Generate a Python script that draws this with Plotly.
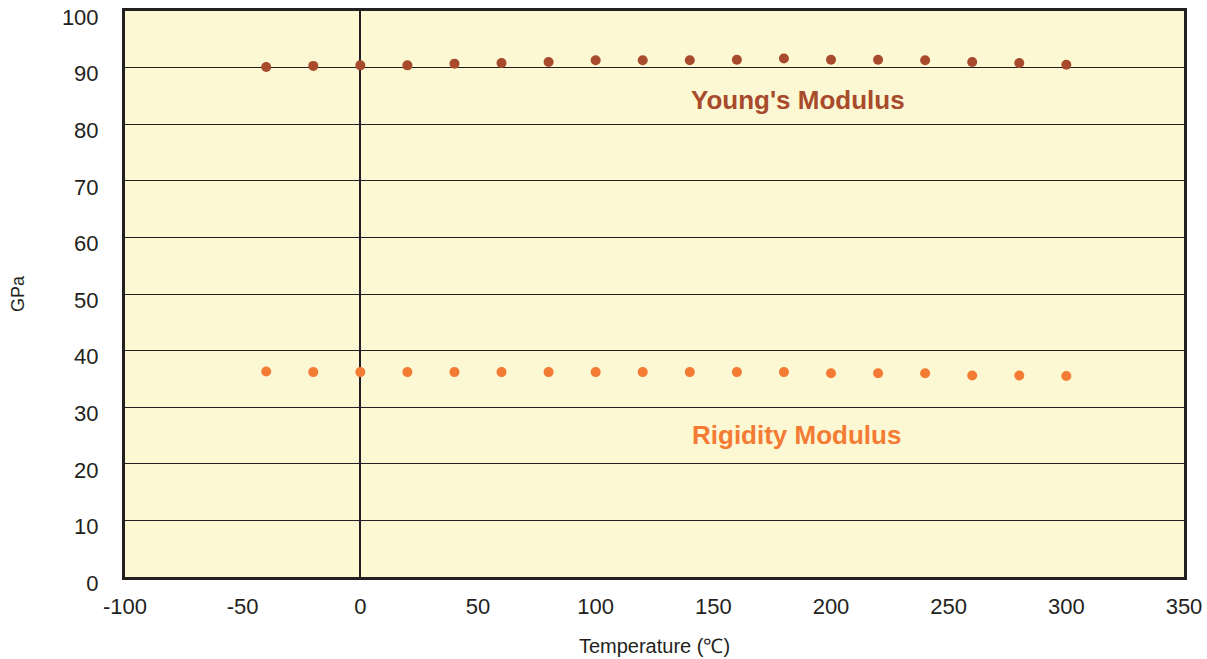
import plotly.graph_objects as go

temps = [-40, -20, 0, 20, 40, 60, 80, 100, 120, 140, 160, 180, 200, 220, 240, 260, 280, 300]
youngs = [90.1, 90.3, 90.4, 90.4, 90.7, 90.8, 91.0, 91.3, 91.3, 91.3, 91.4, 91.6, 91.4, 91.4, 91.3, 91.0, 90.8, 90.5]
rigidity = [36.3, 36.2, 36.2, 36.2, 36.2, 36.2, 36.2, 36.2, 36.2, 36.2, 36.2, 36.2, 36.0, 36.0, 36.0, 35.6, 35.6, 35.5]

x_ticks = [-100, -50, 0, 50, 100, 150, 200, 250, 300, 350]
y_ticks = [0, 10, 20, 30, 40, 50, 60, 70, 80, 90, 100]

young_color = "#a84b2c"
rigid_color = "#f47b34"
font_family = "Liberation Sans, Arial, sans-serif"
text_color = "#231f20"

fig = go.Figure()
fig.add_trace(go.Scatter(x=temps, y=youngs, mode="markers",
                         marker=dict(size=10, color=young_color), name="Young's Modulus"))
fig.add_trace(go.Scatter(x=temps, y=rigidity, mode="markers",
                         marker=dict(size=10, color=rigid_color), name="Rigidity Modulus"))

fig.add_annotation(x=186, y=84.3, text="<b>Young's Modulus</b>", showarrow=False,
                   font=dict(family=font_family, size=26, color=young_color))
fig.add_annotation(x=185.5, y=25.1, text="<b>Rigidity Modulus</b>", showarrow=False,
                   font=dict(family=font_family, size=26, color=rigid_color))

fig.update_layout(
    width=1207, height=659,
    margin=dict(l=125, r=23, t=11, b=82, autoexpand=False),
    paper_bgcolor="white",
    plot_bgcolor="#fcf8d4",
    showlegend=False,
    font=dict(family=font_family, size=22, color=text_color),
)
fig.update_xaxes(
    range=[-100, 350], tickvals=x_ticks, ticktext=[str(v) for v in x_ticks],
    showgrid=False, zeroline=True, zerolinecolor="#231f20", zerolinewidth=2,
    showline=True, linecolor="#231f20", linewidth=3, mirror=True,
    ticks="", ticklabelstandoff=8, automargin=False, ticklabeloverflow="allow",
    title=dict(text="Temperature (℃)", font=dict(size=20), standoff=21),
)
fig.update_yaxes(
    range=[0, 100], tickvals=y_ticks, ticktext=[str(v) for v in y_ticks],
    showgrid=True, gridcolor="#231f20", gridwidth=1, zeroline=False,
    showline=True, linecolor="#231f20", linewidth=3, mirror=True,
    ticks="", ticklabelstandoff=19, ticklabelshift=6,
    automargin=False, ticklabeloverflow="allow",
    title=dict(text="GPa", font=dict(size=18), standoff=33),
)

fig.write_html("out.html", config={"displayModeBar": False},
               post_script="document.body.style.margin='0';")
